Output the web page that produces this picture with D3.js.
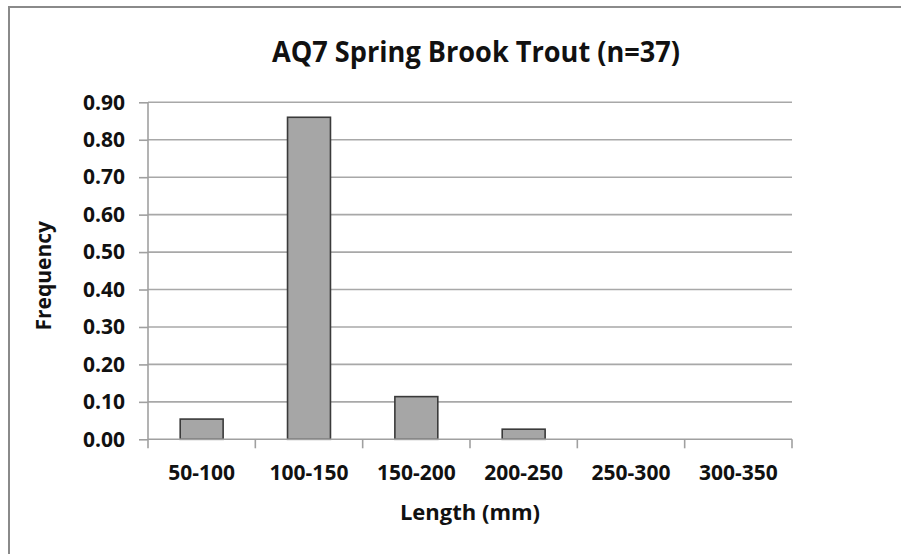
<!DOCTYPE html>
<html>
<head>
<meta charset="utf-8">
<script src="https://cdn.jsdelivr.net/npm/d3@7"></script>
<style>
  html, body { margin: 0; padding: 0; background: #fff; }
  svg { display: block; }
  text { font-family: "Open Sans", "Liberation Sans", sans-serif; font-weight: bold; fill: #111; }
</style>
</head>
<body>
<script>
const categories = ["50-100", "100-150", "150-200", "200-250", "250-300", "300-350"];
const frequency = [0.054, 0.86, 0.114, 0.027, 0, 0];
const yTicks = [0, 0.1, 0.2, 0.3, 0.4, 0.5, 0.6, 0.7, 0.8, 0.9];
const titleText = "AQ7 Spring Brook Trout (n=37)";
const xTitle = "Length (mm)";
const yTitle = "Frequency";

const W = 901, H = 554;
const plot = { left: 148, right: 792, top: 102.3, bottom: 439.3 };

const svg = d3.select("body").append("svg").attr("width", W).attr("height", H);

// outer frame (top and left edges visible)
svg.append("line").attr("x1", 9).attr("x2", W).attr("y1", 7).attr("y2", 7)
  .attr("stroke", "#8a8a8a").attr("stroke-width", 2);
svg.append("line").attr("x1", 9).attr("x2", 9).attr("y1", 6).attr("y2", H)
  .attr("stroke", "#8a8a8a").attr("stroke-width", 2);

const y = d3.scaleLinear().domain([0, 0.9]).range([plot.bottom, plot.top]);
const xCat = d3.scaleBand().domain(categories).range([plot.left, plot.right]).padding(0);
const xBar = d3.scaleBand().domain(categories).range([plot.left, plot.right])
  .paddingInner(0.6).paddingOuter(0.3);

// gridlines
svg.append("g").selectAll("line").data(yTicks.filter(d => d > 0)).join("line")
  .attr("x1", plot.left).attr("x2", plot.right)
  .attr("y1", d => y(d)).attr("y2", d => y(d))
  .attr("stroke", "#a8a8a8").attr("stroke-width", 1.6);

// y axis
const yAxis = svg.append("g").attr("transform", `translate(${plot.left},0)`)
  .call(d3.axisLeft(y).tickValues(yTicks).tickFormat(d3.format(".2f")).tickSize(9).tickPadding(14));
yAxis.select(".domain").attr("stroke", "#a0a0a0").attr("stroke-width", 1.6)
  .attr("d", `M0,${plot.top}V${plot.bottom + 0.5}`);
yAxis.selectAll(".tick line").attr("stroke", "#a0a0a0").attr("stroke-width", 1.6);
yAxis.selectAll(".tick text").style("font-size", "21px").attr("fill", "#111")
  .style("font-family", "'Open Sans', sans-serif").style("font-weight", "bold");

// bars
svg.append("g").selectAll("rect").data(categories.map((c, i) => ({ c, v: frequency[i] })).filter(d => d.v > 0))
  .join("rect")
  .attr("x", d => xBar(d.c))
  .attr("width", xBar.bandwidth())
  .attr("y", d => y(d.v))
  .attr("height", d => y(0) - y(d.v))
  .attr("fill", "#a6a6a6").attr("stroke", "#3a3a3a").attr("stroke-width", 1.6);

// x axis
const xAxisG = svg.append("g");
xAxisG.append("line").attr("x1", plot.left).attr("x2", plot.right)
  .attr("y1", y(0)).attr("y2", y(0)).attr("stroke", "#a0a0a0").attr("stroke-width", 1.6);
const boundaries = categories.map(c => xCat(c)).concat([xCat.range()[1]]);
xAxisG.selectAll("line.tk").data(boundaries).join("line").attr("class", "tk")
  .attr("x1", d => d).attr("x2", d => d)
  .attr("y1", y(0)).attr("y2", y(0) + 9)
  .attr("stroke", "#a0a0a0").attr("stroke-width", 1.6);
xAxisG.selectAll("text").data(categories).join("text")
  .attr("x", d => xCat(d) + xCat.bandwidth() / 2)
  .attr("y", 480)
  .attr("text-anchor", "middle")
  .style("font-size", "21px")
  .text(d => d);

// titles
svg.append("text").attr("x", 476).attr("y", 62).attr("text-anchor", "middle")
  .attr("textLength", 408).attr("lengthAdjust", "spacingAndGlyphs")
  .style("font-size", "29px").text(titleText);
svg.append("text").attr("x", (plot.left + plot.right) / 2).attr("y", 520).attr("text-anchor", "middle")
  .style("font-size", "22px").text(xTitle);
svg.append("text").attr("transform", `translate(51,${(plot.top + plot.bottom) / 2 + 5}) rotate(-90)`)
  .attr("text-anchor", "middle").style("font-size", "21px").text(yTitle);
</script>
</body>
</html>
